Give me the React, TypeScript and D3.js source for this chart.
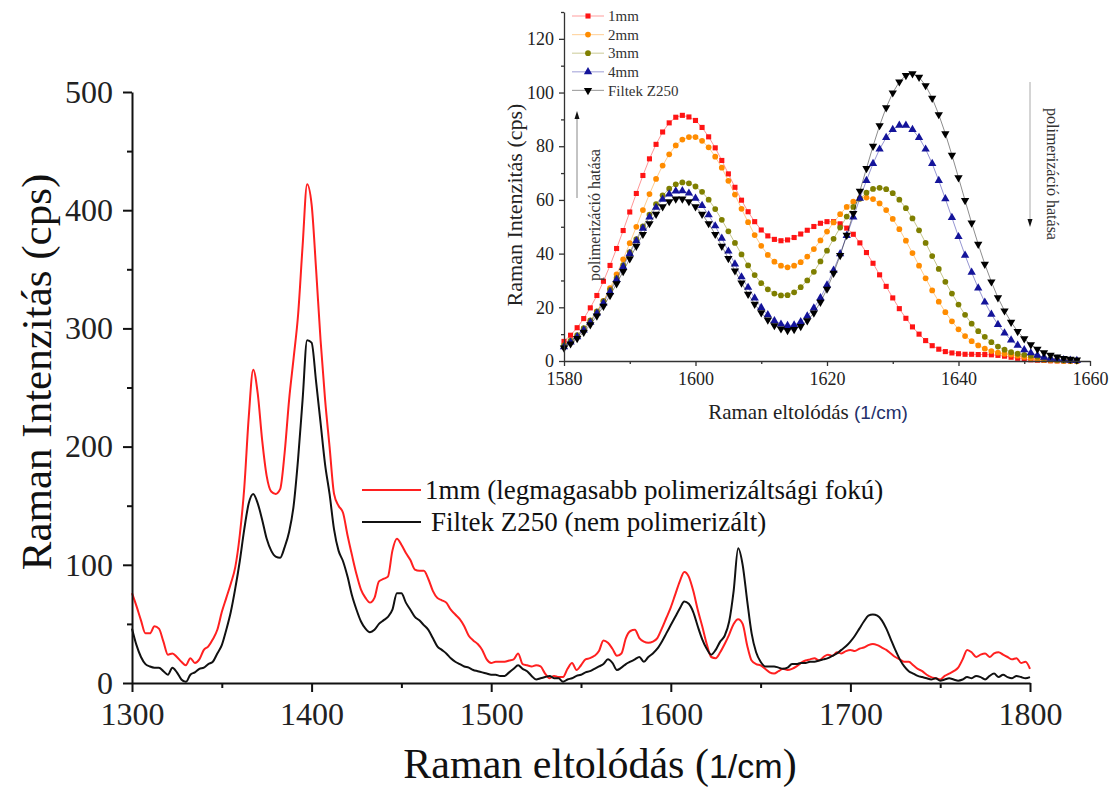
import * as d3 from "d3";
import { useEffect, useRef } from "react";

// ---- main spectrum (1300-1800 1/cm, every 2.5) ----
const mainStart = 1300;
const mainStep = 2.5;
const red1mm = [
  76, 65, 53, 42, 42, 48, 46, 35, 24, 25, 22, 18, 15, 21, 17, 20, 28, 31, 37, 45,
  60, 72, 84, 98, 125, 165, 225, 265, 245, 205, 175, 162, 160, 164, 195, 240, 275, 312, 370, 422,
  405, 350, 290, 240, 200, 160, 150, 144, 125, 108, 92, 79, 72, 68, 72, 86, 88, 90, 112, 122,
  117, 110, 104, 96, 95, 95, 88, 78, 72, 70, 68, 62, 58, 54, 48, 40, 36, 33, 28, 20,
  17, 18, 18, 18, 19, 20, 25, 16, 15, 14, 15, 14, 8, 4, 6, 5, 5, 12, 17, 11,
  15, 20, 21, 23, 27, 36, 34, 29, 23, 25, 38, 44, 45, 38, 35, 34, 35, 38, 46, 55,
  64, 75, 86, 94, 90, 78, 62, 48, 33, 22, 21, 26, 33, 41, 50, 54, 50, 32, 19, 16,
  15, 12, 9, 8, 10, 12, 11, 12, 14, 17, 19, 20, 21, 19, 22, 24, 23, 26, 25, 27,
  28, 27, 29, 30, 32, 33, 32, 30, 28, 25, 22, 20, 18, 18, 15, 12, 10, 7, 5, 4,
  3, 6, 8, 10, 13, 20, 28, 26, 22, 24, 25, 22, 25, 26, 24, 22, 20, 21, 17, 18,
  12,
];
const filtekMain = [
  46, 32, 22, 16, 14, 13, 13, 10, 7, 13, 9, 3, 1, 7, 9, 12, 13, 16, 18, 25,
  32, 45, 60, 80, 103, 130, 152, 160, 152, 138, 122, 112, 107, 106, 115, 128, 150, 190, 240, 290,
  288, 255, 220, 185, 160, 130, 112, 103, 90, 74, 62, 52, 46, 43, 45, 50, 53, 56, 62, 76,
  76, 68, 62, 56, 53, 49, 45, 38, 31, 28, 25, 21, 18, 16, 14, 13, 11, 10, 9, 8,
  7, 7, 6, 6, 9, 12, 15, 12, 10, 6, 3, 4, 5, 6, 4, 4, 1, 3, 4, 6,
  7, 9, 10, 12, 14, 16, 20, 17, 11, 13, 16, 18, 20, 22, 18, 22, 25, 29, 35, 42,
  49, 56, 63, 69, 67, 60, 48, 37, 29, 24, 28, 35, 40, 52, 78, 114, 100, 70, 42, 26,
  18, 14, 14, 14, 13, 12, 13, 16, 16, 17, 17, 18, 18, 19, 20, 21, 23, 25, 28, 31,
  35, 40, 46, 52, 57, 58, 57, 53, 46, 37, 28, 20, 14, 10, 8, 6, 5, 4, 3, 4,
  2, 3, 4, 3, 2, 3, 5, 4, 6, 5, 3, 6, 8, 5, 7, 5, 4, 6, 5, 4,
  5,
];
const mainXTicks = [1300, 1400, 1500, 1600, 1700, 1800];
const mainXMinor = [1350, 1450, 1550, 1650, 1750];
const mainYTicks = [0, 100, 200, 300, 400, 500];
const mainYMinor = [50, 150, 250, 350, 450];

// ---- inset (1580-1658 1/cm, every 1) ----
const insetStart = 1580;
const ins1mm = [
  7.3, 9.6, 12.4, 15.8, 19.8, 24.4, 29.7, 35.6, 41.9, 48.6,
  55.5, 62.4, 69.1, 75.3, 80.7, 85.3, 88.7, 90.8, 91.5, 90.9,
  89.6, 87.0, 83.5, 79.4, 74.7, 69.7, 64.7, 59.9, 55.6, 51.9,
  48.8, 46.6, 45.3, 44.8, 45.1, 46.0, 47.3, 48.7, 50.1, 51.3,
  51.9, 51.9, 51.1, 49.5, 47.2, 44.0, 40.4, 36.4, 32.1, 27.8,
  23.5, 19.5, 15.9, 12.7, 10.0, 7.6, 5.7, 4.4, 3.5, 3.0,
  2.7, 2.5, 2.5, 2.4, 2.4, 2.3, 2.1, 1.8, 1.4, 1.0,
  0.7, 0.45, 0.3, 0.2, 0.1, 0.05, 0, 0, 0,
];
const ins2mm = [
  5.2, 6.9, 9.0, 11.6, 14.6, 18.3, 22.4, 27.1, 32.3, 37.9,
  43.9, 50.0, 56.2, 62.2, 67.8, 72.8, 77.0, 80.3, 82.5, 83.4,
  83.4, 82.0, 79.6, 76.1, 72.0, 67.1, 62.0, 56.7, 51.7, 46.9,
  42.9, 39.5, 37.0, 35.5, 34.9, 35.5, 36.8, 38.9, 41.7, 44.9,
  48.2, 51.6, 54.7, 57.4, 59.4, 60.6, 60.9, 60.3, 58.7, 56.2,
  52.9, 49.1, 44.8, 40.2, 35.5, 30.8, 26.3, 22.1, 18.2, 14.8,
  11.8, 9.3, 7.4, 5.8, 4.6, 3.7, 3.1, 2.7, 2.4, 2.0,
  1.5, 1.0, 0.6, 0.35, 0.2, 0.1, 0, 0, 0,
];
const ins3mm = [
  5.8, 7.6, 9.6, 12.2, 15.1, 18.5, 22.3, 26.5, 30.9, 35.7,
  40.6, 45.4, 50.1, 54.5, 58.4, 61.7, 64.2, 65.8, 66.5, 66.2,
  65.0, 63.0, 60.1, 56.6, 52.6, 48.3, 44.0, 39.7, 35.6, 32.0,
  29.0, 26.7, 25.1, 24.4, 24.5, 25.6, 27.5, 30.0, 33.2, 37.1,
  41.1, 45.5, 49.7, 53.8, 57.4, 60.4, 62.7, 64.1, 64.5, 64.0,
  62.5, 60.1, 56.9, 53.1, 48.7, 44.0, 39.1, 34.3, 29.5, 25.1,
  21.0, 17.2, 13.9, 11.1, 9.0, 7.0, 5.4, 4.2, 3.3, 2.7,
  2.3, 2.0, 1.6, 1.1, 0.7, 0.4, 0.2, 0.1, 0,
];
const ins4mm = [
  5.3, 7.0, 9.0, 11.5, 14.4, 17.8, 21.6, 25.8, 30.3, 35.1,
  40.0, 44.8, 49.4, 53.6, 57.2, 60.2, 62.2, 63.3, 63.4, 62.5,
  60.6, 57.9, 54.4, 50.3, 45.7, 40.9, 36.1, 31.3, 27.4, 23.4,
  19.9, 17.2, 15.0, 13.7, 13.2, 13.4, 14.6, 16.7, 19.7, 23.5,
  28.3, 33.8, 39.9, 46.7, 53.6, 60.6, 67.2, 73.5, 78.9, 83.2,
  86.2, 87.8, 87.8, 86.2, 83.2, 78.9, 73.5, 67.2, 60.4, 53.4,
  46.3, 39.4, 33.0, 27.2, 21.9, 17.4, 13.6, 10.4, 7.8, 5.8,
  4.2, 3.0, 2.1, 1.4, 1.0, 0.65, 0.4, 0.25, 0.15,
];
const insFiltek = [
  4.9, 6.4, 8.4, 10.7, 13.5, 16.8, 20.4, 24.4, 28.8, 33.4,
  38.1, 42.8, 47.2, 51.2, 54.7, 57.5, 59.4, 60.4, 60.4, 59.4,
  57.5, 54.7, 51.2, 47.2, 42.8, 38.2, 33.6, 29.1, 24.9, 21.2,
  18.0, 15.3, 13.2, 12.0, 11.4, 11.8, 12.9, 15.0, 17.9, 21.9,
  26.8, 32.7, 39.3, 46.9, 55.0, 63.3, 71.7, 80.0, 87.7, 94.4,
  99.9, 104.0, 106.4, 107.0, 105.7, 102.6, 97.9, 91.8, 84.7, 76.7,
  68.3, 59.8, 51.4, 43.5, 36.1, 29.5, 23.6, 18.7, 14.5, 11.0,
  8.3, 6.1, 4.4, 3.1, 2.2, 1.5, 1.0, 0.7, 0.4,
];
const insetNames = ["1mm", "2mm", "3mm", "4mm", "Filtek Z250"];
const insetColors = ["#ff1414", "#ff8c00", "#7f7f00", "#14149a", "#000000"];
const insetXTicks = [1580, 1600, 1620, 1640, 1660];
const insetXMinor = [1590, 1610, 1630, 1650];
const insetYTicks = [0, 20, 40, 60, 80, 100, 120];
const insetYMinor = [10, 30, 50, 70, 90, 110, 130];

const serif = "'Liberation Serif', 'Times New Roman', serif";
const sans = "'Liberation Sans', Arial, sans-serif";

export default function App() {
  const svgRef = useRef<SVGSVGElement>(null);

  useEffect(() => {
    const svg = d3.select(svgRef.current);
    svg.selectAll("*").remove();

    // ---------- main chart ----------
    const x = d3.scaleLinear().domain([1300, 1800]).range([132, 1030]);
    const y = d3.scaleLinear().domain([0, 500]).range([683, 92]);
    const mainLine = d3
      .line<number>()
      .x((_, i) => x(mainStart + i * mainStep))
      .y((d) => y(d))
      .curve(d3.curveMonotoneX);

    svg.append("path").datum(red1mm).attr("fill", "none").attr("stroke", "#ff2020").attr("stroke-width", 2).attr("d", mainLine);
    svg.append("path").datum(filtekMain).attr("fill", "none").attr("stroke", "#111").attr("stroke-width", 2).attr("d", mainLine);

    const styleAxis = (g, fontSize, color, width) => {
      g.select(".domain").attr("stroke", color).attr("stroke-width", width);
      g.selectAll(".tick line").attr("stroke", color).attr("stroke-width", width);
      g.selectAll(".tick text").attr("font-family", serif).attr("font-size", fontSize).attr("fill", "#222");
    };

    const gx = svg.append("g").attr("transform", "translate(0,683)")
      .call(d3.axisBottom(x).tickValues(mainXTicks).tickSize(9).tickSizeOuter(0).tickPadding(10).tickFormat(d3.format("d")));
    styleAxis(gx, 32, "#111", 2);
    const gxm = svg.append("g").attr("transform", "translate(0,683)")
      .call(d3.axisBottom(x).tickValues(mainXMinor).tickSize(5).tickSizeOuter(0).tickFormat(() => ""));
    gxm.select(".domain").remove();
    gxm.selectAll(".tick line").attr("stroke", "#111").attr("stroke-width", 2);

    const gy = svg.append("g").attr("transform", "translate(132,0)")
      .call(d3.axisLeft(y).tickValues(mainYTicks).tickSize(9).tickSizeOuter(0).tickPadding(10));
    styleAxis(gy, 32, "#111", 2);
    const gym = svg.append("g").attr("transform", "translate(132,0)")
      .call(d3.axisLeft(y).tickValues(mainYMinor).tickSize(5).tickSizeOuter(0).tickFormat(() => ""));
    gym.select(".domain").remove();
    gym.selectAll(".tick line").attr("stroke", "#111").attr("stroke-width", 2);

    // main axis titles
    svg.append("text")
      .attr("transform", "translate(36,372) rotate(-90)")
      .attr("text-anchor", "middle").attr("dominant-baseline", "central")
      .attr("font-family", serif).attr("font-size", 43).attr("fill", "#111")
      .text("Raman Intenzitás (cps)");
    const xt = svg.append("text").attr("x", 600).attr("y", 778).attr("text-anchor", "middle")
      .attr("font-family", serif).attr("font-size", 42).attr("fill", "#111");
    xt.append("tspan").text("Raman eltolódás (");
    xt.append("tspan").attr("font-family", sans).attr("font-size", 34).text("1/cm");
    xt.append("tspan").text(")");

    // main legend
    const mainLegend = [
      { label: "1mm (legmagasabb polimerizáltsági fokú)", color: "#ff2020", y: 490, tx: 425 },
      { label: "Filtek Z250 (nem polimerizált)", color: "#111", y: 522, tx: 431 },
    ];
    mainLegend.forEach((l) => {
      svg.append("line").attr("x1", 362).attr("x2", 421).attr("y1", l.y).attr("y2", l.y)
        .attr("stroke", l.color).attr("stroke-width", 2);
      svg.append("text").attr("x", l.tx).attr("y", l.y).attr("dy", "0.35em")
        .attr("font-family", serif).attr("font-size", 27).attr("fill", "#111").text(l.label);
    });

    // ---------- inset ----------
    const xi = d3.scaleLinear().domain([1580, 1660]).range([564, 1090]);
    const yi = d3.scaleLinear().domain([0, 130]).range([361, 12]);
    const series = [ins1mm, ins2mm, ins3mm, ins4mm, insFiltek];
    const symbols = [d3.symbolSquare, d3.symbolCircle, d3.symbolCircle, d3.symbolTriangle, d3.symbolTriangle];
    const symSizes = [26, 26, 26, 30, 30];
    const rotations = [0, 0, 0, 0, 180];
    const insLine = d3.line<number>().x((_, i) => xi(insetStart + i)).y((d) => yi(d));

    series.forEach((s, k) => {
      svg.append("path").datum(s).attr("fill", "none").attr("stroke", insetColors[k])
        .attr("stroke-width", 1).attr("stroke-opacity", 0.45).attr("d", insLine);
      const sym = d3.symbol().type(symbols[k]).size(symSizes[k])();
      svg.append("g").selectAll("path").data(s).join("path")
        .attr("d", sym)
        .attr("transform", (d, i) => `translate(${xi(insetStart + i)},${yi(d)}) rotate(${rotations[k]})`)
        .attr("fill", insetColors[k]);
    });

    const gxi = svg.append("g").attr("transform", "translate(0,361)")
      .call(d3.axisBottom(xi).tickValues(insetXTicks).tickSize(5).tickSizeOuter(0).tickPadding(6).tickFormat(d3.format("d")));
    styleAxis(gxi, 18, "#333", 1.3);
    const gxim = svg.append("g").attr("transform", "translate(0,361)")
      .call(d3.axisBottom(xi).tickValues(insetXMinor).tickSize(3).tickSizeOuter(0).tickFormat(() => ""));
    gxim.select(".domain").remove();
    gxim.selectAll(".tick line").attr("stroke", "#333").attr("stroke-width", 1.3);

    const gyi = svg.append("g").attr("transform", "translate(564,0)")
      .call(d3.axisLeft(yi).tickValues(insetYTicks).tickSize(5).tickSizeOuter(0).tickPadding(5));
    styleAxis(gyi, 18, "#333", 1.3);
    const gyim = svg.append("g").attr("transform", "translate(564,0)")
      .call(d3.axisLeft(yi).tickValues(insetYMinor).tickSize(3).tickSizeOuter(0).tickFormat(() => ""));
    gyim.select(".domain").remove();
    gyim.selectAll(".tick line").attr("stroke", "#333").attr("stroke-width", 1.3);

    svg.append("text")
      .attr("transform", "translate(514,205) rotate(-90)")
      .attr("text-anchor", "middle").attr("dominant-baseline", "central")
      .attr("font-family", serif).attr("font-size", 22).attr("fill", "#222")
      .text("Raman Intenzitás (cps)");
    const xti = svg.append("text").attr("x", 808).attr("y", 419).attr("text-anchor", "middle")
      .attr("font-family", serif).attr("font-size", 21).attr("fill", "#222");
    xti.append("tspan").text("Raman eltolódás ");
    xti.append("tspan").attr("font-family", sans).attr("font-size", 19).attr("fill", "#24306a").text("(1/cm)");

    // inset legend
    insetNames.forEach((name, k) => {
      const ly = 16 + k * 18.6;
      svg.append("line").attr("x1", 572).attr("x2", 604).attr("y1", ly).attr("y2", ly)
        .attr("stroke", insetColors[k]).attr("stroke-opacity", 0.35).attr("stroke-width", 1.2);
      svg.append("path").attr("d", d3.symbol().type(symbols[k]).size(symSizes[k])())
        .attr("transform", `translate(588,${ly}) rotate(${rotations[k]})`).attr("fill", insetColors[k]);
      svg.append("text").attr("x", 608).attr("y", ly).attr("dy", "0.35em")
        .attr("font-family", serif).attr("font-size", 15).attr("fill", "#333").text(name);
    });

    // annotations: polimerizáció hatása
    svg.append("line").attr("x1", 577).attr("x2", 577).attr("y1", 198).attr("y2", 117)
      .attr("stroke", "#888").attr("stroke-width", 1);
    svg.append("path").attr("d", "M577,111 L574.5,119 L579.5,119 Z").attr("fill", "#111");
    svg.append("text")
      .attr("transform", "translate(594,215) rotate(-90)")
      .attr("text-anchor", "middle").attr("dominant-baseline", "central")
      .attr("font-family", serif).attr("font-size", 16).attr("fill", "#333")
      .text("polimerizáció hatása");

    svg.append("line").attr("x1", 1030).attr("x2", 1030).attr("y1", 82).attr("y2", 220)
      .attr("stroke", "#aaa").attr("stroke-width", 1);
    svg.append("path").attr("d", "M1030,227 L1027.5,219 L1032.5,219 Z").attr("fill", "#111");
    svg.append("text")
      .attr("transform", "translate(1052,174) rotate(90)")
      .attr("text-anchor", "middle").attr("dominant-baseline", "central")
      .attr("font-family", serif).attr("font-size", 16).attr("fill", "#333")
      .text("polimerizáció hatása");
  }, []);

  return (
    <svg
      ref={svgRef}
      width={1115}
      height={787}
      style={{ position: "absolute", left: 0, top: 0, background: "#fff" }}
    />
  );
}
